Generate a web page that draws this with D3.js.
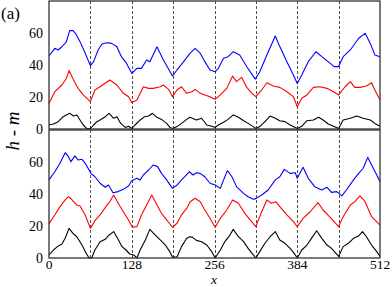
<!DOCTYPE html>
<html>
<head>
<meta charset="utf-8">
<script src="https://cdn.jsdelivr.net/npm/d3@7"></script>
<style>
  body { margin: 0; background: #fff; }
  svg { display: block; }
</style>
</head>
<body>
<script>
// values, [x, h - m]
var topBlack = [[0,2.5],[7,3.1],[14,4.6],[22,7.7],[27,8.8],[32,9.8],[38,8.1],[43,8.8],[48,5.6],[53,2.5],[58,0.4],[64,0.3],[69,2.5],[74,4.6],[79,5.6],[87,7.7],[93,9.8],[100,6.7],[105,7.7],[111,3.5],[118,1],[123,1.7],[128,0.3],[133,2.5],[141,5.6],[148,7.7],[154,8.1],[160,9.8],[167,7.3],[174,6],[182,3.5],[187,1],[192,0.3],[198,1.5],[205,3.5],[213,6],[218,7.3],[228,5.6],[236,6.7],[244,2.5],[252,1.7],[257,1],[262,2.5],[270,4.2],[277,6],[285,8.8],[293,7.3],[301,5.2],[308,3.5],[316,1.5],[320,0.3],[326,1.5],[334,4.6],[342,8.1],[350,6.7],[357,5.2],[365,4.6],[373,2.5],[381,1],[384,0.3],[391,1.7],[399,5.2],[409,5.6],[417,7.3],[424,5.6],[432,3.1],[440,1.7],[448,0.3],[455,5.6],[466,6.7],[476,8.1],[486,6.7],[497,5.6],[504,3.5],[512,1.7]];
var topRed = [[0,16],[9,23.3],[20,27.5],[27,31.7],[31,36.5],[38,30.6],[45,25.4],[53,21.3],[64,17.1],[71,24.4],[79,26.4],[94,30.6],[105,27.5],[115,22.3],[123,20.2],[128,16.5],[136,18.1],[146,26.4],[154,25.4],[161,25.4],[172,26.4],[177,27.5],[185,24.8],[191,20.2],[198,24.4],[205,26.4],[213,22.3],[221,23.3],[226,24.8],[234,22.3],[241,21.3],[249,20.2],[257,18.5],[265,21.3],[275,25.4],[284,33.1],[290,29.6],[298,32.3],[306,26],[314,22.3],[320,20.2],[329,24.4],[337,28.9],[347,26.9],[357,26],[368,23.3],[378,20.2],[384,13.9],[391,19.2],[399,21.3],[409,26],[419,26.4],[430,25.4],[440,23.3],[448,21.3],[458,26.4],[466,29.6],[473,26],[481,26],[491,26.9],[499,28.9],[504,24.4],[512,18.1]];
var topBlue = [[0,45.6],[9,50.4],[14,49.4],[20,51.4],[27,54.6],[32,61.5],[37,61.5],[41,59.8],[48,54.6],[56,47.3],[64,39.6],[69,42.1],[76,49.4],[82,53.1],[89,53.9],[97,53.5],[105,51.4],[112,45.2],[120,41],[128,34.8],[136,37.9],[143,37.9],[151,43.1],[156,42],[167,51.4],[177,43.1],[191,33.1],[198,36.9],[208,42],[218,47.3],[226,50.4],[234,47.3],[241,42.1],[249,36.9],[257,35.8],[262,37.9],[270,44.2],[277,45.2],[285,48.3],[295,46.3],[306,38.9],[319,31.2],[326,35.8],[337,46.3],[350,58.1],[357,51.5],[368,42.1],[378,33.8],[384,28.5],[391,33.8],[401,42.1],[413,48.3],[422,45.2],[435,41],[441,39],[448,39],[455,45.2],[466,49.4],[479,56.7],[489,59.8],[497,53.5],[504,46.3],[512,45.2]];

var botBlack = [[0,1.9],[7,5],[13,7.1],[20,8.8],[25,12.3],[31,18.5],[37,15.4],[43,13.3],[51,8.1],[57,3.3],[62,0],[66,0],[71,5],[79,10.2],[87,11.7],[93,14.4],[100,16.5],[106,12.3],[113,7.1],[119,5],[125,2.5],[131,1.9],[136,0],[141,5],[149,11.3],[156,17.9],[164,14.4],[172,11.3],[180,8.1],[187,3.8],[191,0.6],[198,0.6],[205,7.1],[213,12.3],[218,13.3],[222,12.9],[228,11],[236,10.2],[244,8.1],[252,3.8],[257,0],[265,5],[272,10.2],[279,13.8],[285,17.9],[293,13.3],[301,10.2],[308,6],[316,1.9],[320,0],[326,4],[334,9.2],[342,13.3],[350,16.5],[357,11.3],[365,9.2],[373,6],[381,1.9],[384,0],[391,5],[399,8.1],[406,12.3],[414,17],[422,12.3],[430,8.1],[437,6],[448,1],[455,7.1],[463,9.2],[471,12.3],[479,13.8],[485,16.5],[491,13.3],[499,8.1],[507,4],[512,1]];
var botRed = [[0,21.3],[9,26.9],[17,32.1],[25,36.3],[30,38.3],[35,36.7],[43,33.1],[48,32.5],[56,26.9],[64,18.5],[71,23.3],[79,26.9],[88,32.1],[94,35.2],[100,39.4],[107,34.2],[115,28.9],[123,23.8],[129,19.2],[136,19.6],[143,26.9],[151,33.1],[159,39.4],[167,33.1],[174,27.9],[182,23.8],[191,19.2],[198,21.7],[205,26.9],[213,31],[218,35],[226,37.3],[234,35.2],[241,30],[249,24.8],[257,19.2],[265,24.8],[275,30],[284,36.3],[293,34.2],[303,27.9],[311,23.8],[320,19.6],[329,28.9],[337,36.3],[344,34.2],[351,35.2],[357,32.1],[368,26.9],[378,22.7],[384,19.6],[393,24.8],[404,28.9],[416,34.6],[424,30],[435,25.4],[448,19.6],[455,25.8],[466,33.1],[473,35.2],[481,38.8],[489,35.2],[499,25.8],[512,20.6]];
var botBlue = [[0,48.8],[9,53.9],[17,59.2],[25,65.8],[30,63.3],[34,60.2],[40,63.8],[45,61.3],[51,61.7],[56,59.2],[65,52.9],[71,50.8],[79,46.7],[87,44.2],[92,45.6],[99,40.8],[107,41.5],[115,42.9],[123,45],[128,48.3],[136,49.8],[141,48.8],[146,51.9],[154,55],[161,58.1],[168,57.1],[174,52.9],[182,48.8],[191,43.5],[198,45.6],[205,48.8],[210,50.8],[217,53.9],[223,51.9],[228,53.3],[234,52.9],[241,50.8],[249,46.7],[257,45.6],[265,43.5],[270,48.8],[276,54.6],[283,50.8],[290,44.6],[301,40.4],[308,38.3],[316,36.7],[320,37.1],[329,39.4],[339,42.5],[350,48.8],[357,50.8],[364,55.4],[373,52.9],[381,53.3],[384,49.8],[393,56.7],[401,49.8],[411,44.6],[422,42.5],[430,44.2],[437,41],[445,41.5],[453,38.8],[460,42.5],[471,48.8],[479,52.9],[486,56.1],[493,62.9],[499,58.1],[507,51.9],[512,47.7]];

var xTicks = [0, 128, 256, 384, 512];
var yTicks = [0, 20, 40, 60];
var dashX = [64, 128, 192, 256, 320, 384, 448];

var width = 392,
    height = 287,
    serif = "'Liberation Serif', 'Times New Roman', Times, serif";

var x = d3.scaleLinear().domain([0, 512]).range([49, 380]);

var panels = [
    { series: [topBlack, topRed, topBlue], y: d3.scaleLinear().domain([0, 80]).range([129, 1]) },
    { series: [botBlack, botRed, botBlue], y: d3.scaleLinear().domain([0, 80]).range([258, 130]) }
];
var colors = ["#000000", "#ff0000", "#0000ff"];

var svg = d3.select("body").append("svg")
    .attr("width", width)
    .attr("height", height);

panels.forEach(function (p) {
    var g = svg.append("g");

    // dashed separators
    g.selectAll(".dash")
        .data(dashX)
        .enter()
        .append("line")
        .attr("x1", function (d) { return Math.round(x(d)) + 0.5; })
        .attr("x2", function (d) { return Math.round(x(d)) + 0.5; })
        .attr("y1", p.y.range()[1])
        .attr("y2", p.y.range()[0])
        .attr("stroke", "#222")
        .attr("stroke-width", 0.8)
        .attr("stroke-dasharray", "3,2");

    var line = d3.line()
        .x(function (d) { return x(d[0]); })
        .y(function (d) { return p.y(d[1]); });

    g.selectAll(".series")
        .data(p.series)
        .enter()
        .append("path")
        .attr("d", line)
        .attr("fill", "none")
        .attr("stroke", function (d, j) { return colors[j]; })
        .attr("stroke-width", 1.1)
        .attr("stroke-linejoin", "round");

    // frame
    g.append("rect")
        .attr("x", x.range()[0])
        .attr("y", p.y.range()[1])
        .attr("width", x.range()[1] - x.range()[0])
        .attr("height", p.y.range()[0] - p.y.range()[1])
        .attr("fill", "none")
        .attr("stroke", "#333")
        .attr("stroke-width", 1.3);

    g.selectAll(".ylab")
        .data(yTicks)
        .enter()
        .append("text")
        .attr("x", 43)
        .attr("y", function (d) { return p.y(d); })
        .attr("dy", "0.35em")
        .attr("text-anchor", "end")
        .style("font-family", serif)
        .attr("font-size", "14px")
        .text(function (d) { return d; });
});

svg.selectAll(".xlab")
    .data(xTicks)
    .enter()
    .append("text")
    .attr("x", function (d) { return x(d); })
    .attr("y", 268.5)
    .attr("text-anchor", "middle")
    .style("font-family", serif)
    .attr("font-size", "13.5px")
    .text(function (d) { return d; });

svg.append("text")
    .attr("x", 214)
    .attr("y", 284)
    .attr("text-anchor", "middle")
    .style("font-family", serif)
    .attr("font-size", "13.5px")
    .attr("font-style", "italic")
    .text("x");

svg.append("text")
    .attr("transform", "translate(19,131)rotate(-90)")
    .attr("text-anchor", "middle")
    .style("font-family", serif)
    .attr("font-size", "19px")
    .attr("font-style", "italic")
    .text("h - m");

svg.append("text")
    .attr("x", 1)
    .attr("y", 19)
    .style("font-family", serif)
    .attr("font-size", "17px")
    .text("(a)");
</script>
</body>
</html>
